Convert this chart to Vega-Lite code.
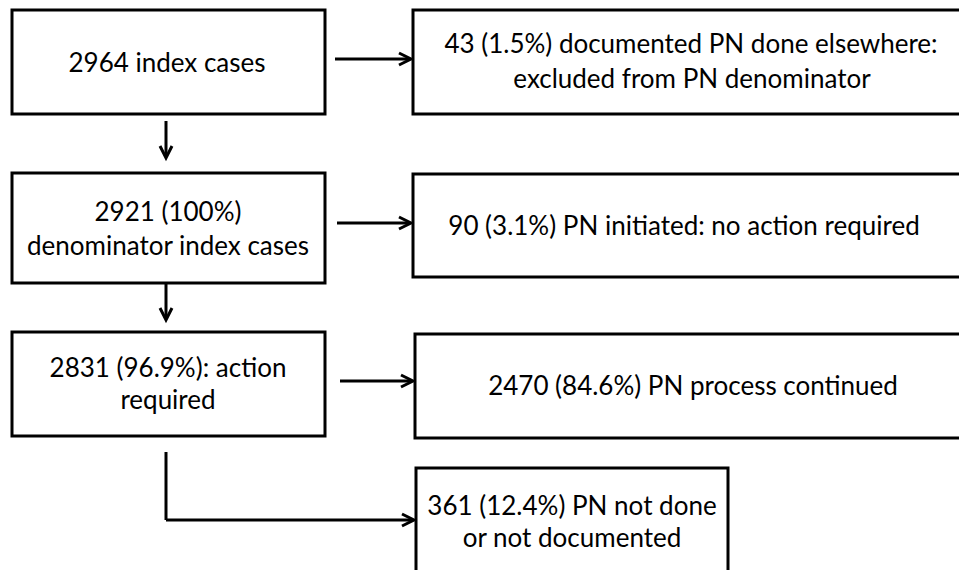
{
  "$schema": "https://vega.github.io/schema/vega-lite/v6.json",
  "width": 959,
  "height": 570,
  "autosize": {"type": "fit", "contains": "padding"},
  "padding": 0,
  "background": "white",
  "config": {"view": {"stroke": null}},
  "datasets": {
    "boxes": [
      {"x1": 12, "x2": 325, "y1": 10, "y2": 114},
      {"x1": 413, "x2": 975, "y1": 10, "y2": 114},
      {"x1": 12, "x2": 325, "y1": 173, "y2": 283},
      {"x1": 413, "x2": 975, "y1": 174, "y2": 277},
      {"x1": 12, "x2": 325, "y1": 332, "y2": 436},
      {"x1": 415, "x2": 975, "y1": 334, "y2": 438},
      {"x1": 416, "x2": 728, "y1": 468, "y2": 600}
    ],
    "lines": [
      {"x1": 335, "x2": 410, "y1": 59, "y2": 59},
      {"x1": 166, "x2": 166, "y1": 121, "y2": 157},
      {"x1": 337, "x2": 410, "y1": 223, "y2": 223},
      {"x1": 166, "x2": 166, "y1": 283, "y2": 319},
      {"x1": 340, "x2": 412, "y1": 381, "y2": 381},
      {"x1": 166, "x2": 166, "y1": 452, "y2": 520},
      {"x1": 166, "x2": 413, "y1": 520, "y2": 520}
    ],
    "heads": [
      {"x": 411, "y": 59, "dir": 0},
      {"x": 166, "y": 158, "dir": 90},
      {"x": 411, "y": 223, "dir": 0},
      {"x": 166, "y": 320, "dir": 90},
      {"x": 413, "y": 381, "dir": 0},
      {"x": 414, "y": 520, "dir": 0}
    ],
    "labels": [
      {"x": 167, "y": 72, "t": "2964 index cases"},
      {"x": 691, "y": 53, "t": "43 (1.5%) documented PN done elsewhere:"},
      {"x": 692, "y": 88, "t": "excluded from PN denominator"},
      {"x": 168, "y": 221, "t": "2921 (100%)"},
      {"x": 168, "y": 255, "t": "denominator index cases"},
      {"x": 684, "y": 235, "t": "90 (3.1%) PN initiated: no action required"},
      {"x": 168, "y": 377, "t": "2831 (96.9%): action"},
      {"x": 168, "y": 409, "t": "required"},
      {"x": 693, "y": 395, "t": "2470 (84.6%) PN process continued"},
      {"x": 572, "y": 515, "t": "361 (12.4%) PN not done"},
      {"x": 572, "y": 547, "t": "or not documented"}
    ]
  },
  "layer": [
    {
      "data": {"name": "boxes"},
      "mark": {"type": "rect", "fill": "white", "stroke": "black", "strokeWidth": 3, "clip": true},
      "encoding": {
        "x": {"field": "x1", "type": "quantitative", "scale": {"domain": [0, 959], "nice": false, "zero": false}, "axis": null},
        "x2": {"field": "x2"},
        "y": {"field": "y1", "type": "quantitative", "scale": {"domain": [0, 570], "nice": false, "zero": false, "reverse": true}, "axis": null},
        "y2": {"field": "y2"}
      }
    },
    {
      "data": {"name": "lines"},
      "mark": {"type": "rule", "stroke": "black", "strokeWidth": 3},
      "encoding": {
        "x": {"field": "x1", "type": "quantitative"},
        "x2": {"field": "x2"},
        "y": {"field": "y1", "type": "quantitative"},
        "y2": {"field": "y2"}
      }
    },
    {
      "data": {"name": "heads"},
      "mark": {"type": "point", "shape": "M-1,-0.5L0,0L-1,0.5", "filled": false, "stroke": "black", "strokeWidth": 3, "size": 576, "opacity": 1},
      "encoding": {
        "x": {"field": "x", "type": "quantitative"},
        "y": {"field": "y", "type": "quantitative"},
        "angle": {"field": "dir", "type": "quantitative", "scale": null}
      }
    },
    {
      "data": {"name": "labels"},
      "mark": {"type": "text", "font": "Lato", "fontSize": 26, "align": "center", "baseline": "alphabetic", "color": "black"},
      "encoding": {
        "x": {"field": "x", "type": "quantitative"},
        "y": {"field": "y", "type": "quantitative"},
        "text": {"field": "t"}
      }
    }
  ]
}
